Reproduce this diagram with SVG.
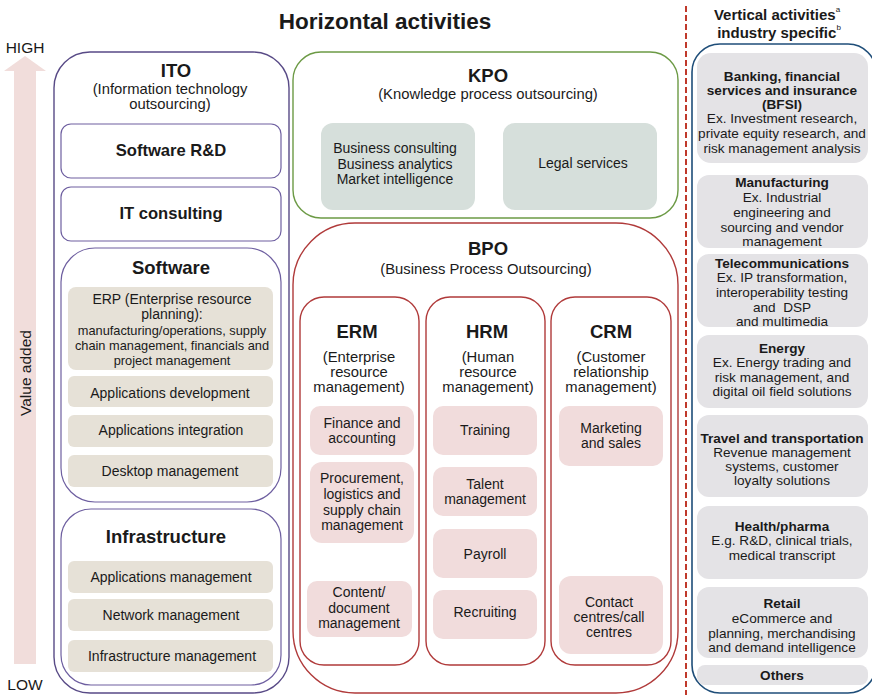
<svg xmlns="http://www.w3.org/2000/svg" width="872" height="695" viewBox="0 0 872 695">
<style>
text{font-family:"Liberation Sans",Arial,sans-serif;fill:#1a1a1a;text-anchor:middle;dominant-baseline:central}
.b{font-weight:bold}
.ito{fill:none;stroke:#584a86;stroke-width:1.4}
.itoin{fill:#fff;stroke:#6e5fa0;stroke-width:1.2}
.beige{fill:#e6e1d7}
.kpo{fill:none;stroke:#6c9a45;stroke-width:1.4}
.kfill{fill:#d6dfdb}
.bpo{fill:none;stroke:#b03a3a;stroke-width:1.4}
.pink{fill:#f1dcdc}
.vert{fill:#e4e3e6}
.t13{font-size:14px}
.t12{font-size:13.6px}
.sub{font-size:14.8px}
.h{font-size:18.5px;font-weight:bold}
</style>
<rect width="872" height="695" fill="#fff"/>
<text x="385" y="21" class="b" font-size="22.5">Horizontal activities</text>

<g id="axis">
<polygon points="25,56 46,71 36,71 36,664 14,664 14,71 4,71" fill="#f1dddb"/>
<text x="25" y="47" font-size="15.5">HIGH</text>
<text x="25" y="684" font-size="15.5">LOW</text>
<text x="25" y="373" font-size="15.5" transform="rotate(-90 25 373)">Value added</text>
</g>

<g id="ito">
<rect class="ito" x="54" y="52" width="235" height="641" rx="36"/>
<text x="176" y="70.5" class="h">ITO</text>
<text x="170" y="88.5" class="sub">(Information technology</text>
<text x="170" y="103.5" class="sub">outsourcing)</text>
</g>
<g id="software-rd">
<rect class="itoin" x="61" y="124" width="220" height="54" rx="10"/>
<text x="171" y="150" class="b" font-size="16.6">Software R&amp;D</text>
</g>
<g id="it-consulting">
<rect class="itoin" x="61" y="187" width="220" height="54" rx="10"/>
<text x="171" y="213" class="b" font-size="16.6">IT consulting</text>
</g>
<g id="software">
<rect class="itoin" x="61" y="248" width="220" height="254" rx="34"/>
<text x="171" y="267" class="h">Software</text>
<rect class="beige" x="68" y="287" width="205" height="83" rx="8"/>
<text x="172" y="299" class="t13">ERP (Enterprise resource</text>
<text x="172" y="314" class="t13">planning):</text>
<text x="172" y="330" font-size="12.8">manufacturing/operations, supply</text>
<text x="172" y="345" font-size="12.8">chain management, financials and</text>
<text x="172" y="360" font-size="12.8">project management</text>
<rect class="beige" x="68" y="376" width="205" height="31" rx="6"/>
<text x="170" y="393" class="t13">Applications development</text>
<rect class="beige" x="68" y="415" width="205" height="32" rx="6"/>
<text x="171" y="430" class="t13">Applications integration</text>
<rect class="beige" x="68" y="455" width="205" height="32" rx="6"/>
<text x="170" y="471" class="t13">Desktop management</text>
</g>
<g id="infrastructure">
<rect class="itoin" x="61" y="509" width="220" height="176" rx="30"/>
<text x="166" y="536" class="h">Infrastructure</text>
<rect class="beige" x="68" y="561" width="205" height="32" rx="6"/>
<text x="171" y="577" class="t13">Applications management</text>
<rect class="beige" x="68" y="599" width="205" height="32" rx="6"/>
<text x="171" y="615" class="t13">Network management</text>
<rect class="beige" x="68" y="640" width="205" height="32" rx="6"/>
<text x="172" y="656" class="t13">Infrastructure management</text>
</g>

<g id="kpo">
<rect class="kpo" x="293" y="52" width="385" height="166" rx="28"/>
<text x="488" y="75" class="h">KPO</text>
<text x="488" y="94" class="sub">(Knowledge process outsourcing)</text>
<rect class="kfill" x="321" y="123" width="154" height="87" rx="12"/>
<text x="395" y="148" class="t13">Business consulting</text>
<text x="395" y="164" class="t13">Business analytics</text>
<text x="395" y="179" class="t13">Market intelligence</text>
<rect class="kfill" x="503" y="123" width="154" height="87" rx="12"/>
<text x="583" y="163" class="t13">Legal services</text>
</g>

<g id="bpo">
<rect class="bpo" x="293" y="223" width="385" height="470" rx="62"/>
<text x="488" y="248" class="h">BPO</text>
<text x="486" y="269" class="sub">(Business Process Outsourcing)</text>
</g>
<g id="erm">
<rect class="bpo" x="300" y="297" width="119" height="368" rx="24"/>
<text x="357" y="331" class="h">ERM</text>
<text x="359" y="357" class="sub">(Enterprise</text>
<text x="359" y="372" class="sub">resource</text>
<text x="359" y="387" class="sub">management)</text>
<rect class="pink" x="310" y="406" width="104" height="49" rx="10"/>
<text x="362" y="423" class="t13">Finance and</text>
<text x="362" y="438" class="t13">accounting</text>
<rect class="pink" x="310" y="462" width="104" height="81" rx="12"/>
<text x="362" y="478" class="t13">Procurement,</text>
<text x="362" y="494" class="t13">logistics and</text>
<text x="362" y="510" class="t13">supply chain</text>
<text x="362" y="525" class="t13">management</text>
<rect class="pink" x="307" y="581" width="105" height="56" rx="10"/>
<text x="359" y="592" class="t13">Content/</text>
<text x="359" y="608" class="t13">document</text>
<text x="359" y="623" class="t13">management</text>
</g>
<g id="hrm">
<rect class="bpo" x="426" y="297" width="119" height="368" rx="24"/>
<text x="487" y="331" class="h">HRM</text>
<text x="488" y="357" class="sub">(Human</text>
<text x="488" y="372" class="sub">resource</text>
<text x="488" y="387" class="sub">management)</text>
<rect class="pink" x="433" y="406" width="104" height="49" rx="10"/>
<text x="485" y="430" class="t13">Training</text>
<rect class="pink" x="433" y="467" width="104" height="49" rx="10"/>
<text x="485" y="484" class="t13">Talent</text>
<text x="485" y="499" class="t13">management</text>
<rect class="pink" x="433" y="529" width="104" height="49" rx="10"/>
<text x="485" y="554" class="t13">Payroll</text>
<rect class="pink" x="433" y="590" width="104" height="49" rx="10"/>
<text x="485" y="612" class="t13">Recruiting</text>
</g>
<g id="crm">
<rect class="bpo" x="551" y="297" width="120" height="368" rx="24"/>
<text x="611" y="331" class="h">CRM</text>
<text x="611" y="357" class="sub">(Customer</text>
<text x="611" y="372" class="sub">relationship</text>
<text x="611" y="387" class="sub">management)</text>
<rect class="pink" x="559" y="406" width="104" height="60" rx="10"/>
<text x="611" y="428" class="t13">Marketing</text>
<text x="611" y="443" class="t13">and sales</text>
<rect class="pink" x="559" y="576" width="104" height="78" rx="12"/>
<text x="609" y="602" class="t13">Contact</text>
<text x="609" y="617" class="t13">centres/call</text>
<text x="609" y="632" class="t13">centres</text>
</g>

<g id="connectors">
<line x1="686" y1="6" x2="686" y2="695" stroke="#c0392b" stroke-width="2" stroke-dasharray="6,3"/>
</g>

<g id="vertical">
<text x="777" y="14" class="b" font-size="15">Vertical activities<tspan font-size="8" font-weight="normal" baseline-shift="super">a</tspan></text>
<text x="779" y="32" class="b" font-size="15">industry specific<tspan font-size="8" font-weight="normal" baseline-shift="super">b</tspan></text>
<rect x="692" y="44" width="184" height="649" rx="28" fill="none" stroke="#1f4e79" stroke-width="1.6"/>
</g>
<g id="bfsi">
<rect class="vert" x="697" y="53" width="171" height="110" rx="14"/>
<text x="782" y="76" class="b t12">Banking, financial</text>
<text x="782" y="90" class="b t12">services and insurance</text>
<text x="782" y="104" class="b t12">(BFSI)</text>
<text x="782" y="118" class="t12">Ex. Investment research,</text>
<text x="782" y="133" class="t12">private equity research, and</text>
<text x="782" y="148" class="t12">risk management analysis</text>
</g>
<g id="manufacturing">
<rect class="vert" x="697" y="175" width="171" height="73" rx="12"/>
<text x="782" y="182" class="b t12">Manufacturing</text>
<text x="782" y="197" class="t12">Ex. Industrial</text>
<text x="782" y="212" class="t12">engineering and</text>
<text x="782" y="227" class="t12">sourcing and vendor</text>
<text x="782" y="241" class="t12">management</text>
</g>
<g id="telecom">
<rect class="vert" x="697" y="254" width="171" height="73" rx="12"/>
<text x="782" y="263" class="b t12">Telecommunications</text>
<text x="782" y="277" class="t12">Ex. IP transformation,</text>
<text x="782" y="292" class="t12">interoperability testing</text>
<text x="782" y="307" class="t12" xml:space="preserve">and  DSP</text>
<text x="782" y="321" class="t12">and multimedia</text>
</g>
<g id="energy">
<rect class="vert" x="697" y="335" width="171" height="73" rx="12"/>
<text x="782" y="348" class="b t12">Energy</text>
<text x="782" y="362" class="t12">Ex. Energy trading and</text>
<text x="782" y="377" class="t12">risk management, and</text>
<text x="782" y="391" class="t12">digital oil field solutions</text>
</g>
<g id="travel">
<rect class="vert" x="697" y="415" width="171" height="82" rx="12"/>
<text x="782" y="438" class="b t12">Travel and transportation</text>
<text x="782" y="452" class="t12">Revenue management</text>
<text x="782" y="466" class="t12">systems, customer</text>
<text x="782" y="480" class="t12">loyalty solutions</text>
</g>
<g id="health">
<rect class="vert" x="697" y="506" width="171" height="73" rx="12"/>
<text x="782" y="526" class="b t12">Health/pharma</text>
<text x="782" y="540" class="t12">E.g. R&amp;D, clinical trials,</text>
<text x="782" y="555" class="t12">medical transcript</text>
</g>
<g id="retail">
<rect class="vert" x="697" y="587" width="171" height="71" rx="12"/>
<text x="782" y="603" class="b t12">Retail</text>
<text x="782" y="618" class="t12">eCommerce and</text>
<text x="782" y="633" class="t12">planning, merchandising</text>
<text x="782" y="647" class="t12">and demand intelligence</text>
</g>
<g id="others">
<rect class="vert" x="697" y="665" width="171" height="20" rx="8"/>
<text x="782" y="675" class="b t12">Others</text>
</g>
</svg>
